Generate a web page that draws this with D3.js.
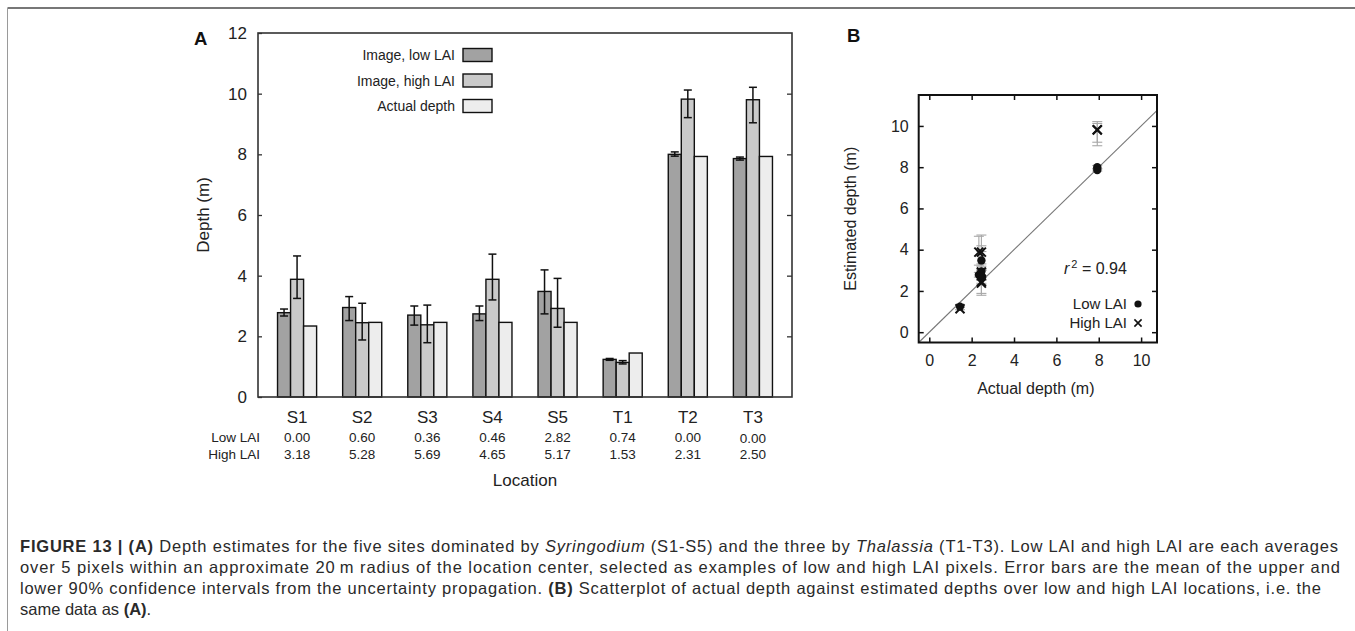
<!DOCTYPE html>
<html>
<head>
<meta charset="utf-8">
<script src="https://cdn.jsdelivr.net/npm/d3@7"></script>
<style>
  html, body { margin: 0; padding: 0; background: #fff; }
  svg { display: block; font-family: "Liberation Sans", Arial, Helvetica, sans-serif; }
</style>
</head>
<body>
<svg id="fig" width="1355" height="631"></svg>
<script>
// ---- data ----
const categories = ["S1", "S2", "S3", "S4", "S5", "T1", "T2", "T3"];
const lowLAI      = [2.78, 2.95, 2.70, 2.74, 3.48, 1.24, 8.00, 7.86];
const lowErrMin   = [2.67, 2.52, 2.37, 2.52, 2.74, 1.21, 7.94, 7.81];
const lowErrMax   = [2.90, 3.31, 3.00, 3.00, 4.19, 1.27, 8.08, 7.91];
const highLAI     = [3.88, 2.45, 2.38, 3.88, 2.92, 1.14, 9.82, 9.80];
const highErrMin  = [3.25, 1.88, 1.79, 3.20, 2.30, 1.09, 9.21, 9.04];
const highErrMax  = [4.65, 3.09, 3.03, 4.71, 3.91, 1.20, 10.12, 10.21];
const actualDepth = [2.34, 2.46, 2.46, 2.46, 2.46, 1.45, 7.93, 7.93];
const lowLAIcover  = ["0.00", "0.60", "0.36", "0.46", "2.82", "0.74", "0.00", "0.00"];
const highLAIcover = ["3.18", "5.28", "5.69", "4.65", "5.17", "1.53", "2.31", "2.50"];
const seriesNames = ["Image, low LAI", "Image, high LAI", "Actual depth"];
const seriesFills = ["#a2a2a2", "#cacaca", "#ededed"];
const yTicksA = [0, 2, 4, 6, 8, 10, 12];
const ticksB = [0, 2, 4, 6, 8, 10];
const rSquared = "0.94";

const svg = d3.select("#fig");

// ---- outer figure frame ----
svg.append("line").attr("x1", 7.5).attr("x2", 1355).attr("y1", 8).attr("y2", 8)
  .attr("stroke", "#4a4a4a").attr("stroke-width", 1.6);
svg.append("line").attr("x1", 7.5).attr("x2", 7.5).attr("y1", 8).attr("y2", 631)
  .attr("stroke", "#9a9a9a").attr("stroke-width", 1);

// =================== Panel A: grouped bars ===================
const xA = d3.scaleLinear().domain([0.4, 8.6]).range([258, 792]);
const yA = d3.scaleLinear().domain([0, 12]).range([397, 33]);
const gA = svg.append("g");

const barSeries = [lowLAI, highLAI, actualDepth];
const offsets = [-0.2, 0, 0.2];
const barW = 0.2;

barSeries.forEach((vals, s) => {
  gA.append("g").selectAll("rect").data(vals).join("rect")
    .attr("x", (d, i) => xA(i + 1 + offsets[s] - barW / 2))
    .attr("width", (d, i) => xA(i + 1 + offsets[s] + barW / 2) - xA(i + 1 + offsets[s] - barW / 2))
    .attr("y", d => yA(d))
    .attr("height", d => yA(0) - yA(d))
    .attr("fill", seriesFills[s])
    .attr("stroke", "#111").attr("stroke-width", 1.4);
});

// error bars
function errorBars(g, xs, mins, maxs, xScale, yScale, cap, color, width) {
  const eb = g.append("g").attr("stroke", color).attr("stroke-width", width).attr("fill", "none");
  xs.forEach((xv, i) => {
    const cx = xScale(xv);
    eb.append("line").attr("x1", cx).attr("x2", cx).attr("y1", yScale(mins[i])).attr("y2", yScale(maxs[i]));
    eb.append("line").attr("x1", cx - cap).attr("x2", cx + cap).attr("y1", yScale(mins[i])).attr("y2", yScale(mins[i]));
    eb.append("line").attr("x1", cx - cap).attr("x2", cx + cap).attr("y1", yScale(maxs[i])).attr("y2", yScale(maxs[i]));
  });
}
errorBars(gA, categories.map((c, i) => i + 1 - 0.2), lowErrMin, lowErrMax, xA, yA, 4, "#111", 1.5);
errorBars(gA, categories.map((c, i) => i + 1), highErrMin, highErrMax, xA, yA, 4, "#111", 1.5);

// axes
const axA = gA.append("g").attr("transform", `translate(${xA.range()[0]},0)`)
  .call(d3.axisLeft(yA).tickValues(yTicksA).tickSize(-4).tickSizeOuter(0).tickPadding(11));
axA.select(".domain").remove();
axA.selectAll("text").attr("font-size", 17).attr("fill", "#222")
  .attr("font-family", "Liberation Sans, Arial, sans-serif");
axA.selectAll("line").attr("stroke", "#333").attr("stroke-width", 1.3);

const axAR = gA.append("g").attr("transform", `translate(${xA.range()[1]},0)`)
  .call(d3.axisRight(yA).tickValues(yTicksA.slice(1, -1)).tickSize(-5).tickSizeOuter(0).tickFormat(""));
axAR.select(".domain").remove();
axAR.selectAll("line").attr("stroke", "#333").attr("stroke-width", 1.3);

gA.append("rect")
  .attr("x", xA.range()[0]).attr("y", yA(12))
  .attr("width", xA.range()[1] - xA.range()[0]).attr("height", yA(0) - yA(12))
  .attr("fill", "none").attr("stroke", "#333").attr("stroke-width", 1.6);

// category labels and LAI rows
gA.append("g").selectAll("text").data(categories).join("text")
  .attr("x", (d, i) => xA(i + 1)).attr("y", 423)
  .attr("text-anchor", "middle").attr("font-size", 17).attr("fill", "#222").text(d => d);
gA.append("g").selectAll("text").data(lowLAIcover).join("text")
  .attr("x", (d, i) => xA(i + 1)).attr("y", (d, i) => i === 7 ? 443 : 441.5)
  .attr("text-anchor", "middle").attr("font-size", 13.5).attr("fill", "#222").text(d => d);
gA.append("g").selectAll("text").data(highLAIcover).join("text")
  .attr("x", (d, i) => xA(i + 1)).attr("y", 459)
  .attr("text-anchor", "middle").attr("font-size", 13.5).attr("fill", "#222").text(d => d);
gA.append("text").attr("x", 260).attr("y", 441.5).attr("text-anchor", "end")
  .attr("font-size", 13.5).attr("fill", "#222").text("Low LAI");
gA.append("text").attr("x", 260).attr("y", 459).attr("text-anchor", "end")
  .attr("font-size", 13.5).attr("fill", "#222").text("High LAI");

gA.append("text").attr("x", 525).attr("y", 486).attr("text-anchor", "middle")
  .attr("font-size", 17).attr("fill", "#222").text("Location");
gA.append("text").attr("transform", `translate(209,${(yA(0) + yA(12)) / 2}) rotate(-90)`)
  .attr("text-anchor", "middle").attr("font-size", 17).attr("fill", "#222").text("Depth (m)");
gA.append("text").attr("x", 194).attr("y", 45).attr("font-size", 18.5).attr("font-weight", "bold")
  .attr("fill", "#111").text("A");

// legend
const legA = gA.append("g");
seriesNames.forEach((name, s) => {
  const cy = 55 + s * 25.5;
  legA.append("text").attr("x", 455).attr("y", cy + 5).attr("text-anchor", "end")
    .attr("font-size", 14).attr("fill", "#222").text(name);
  legA.append("rect").attr("x", 463).attr("y", cy - 6.5).attr("width", 29).attr("height", 13)
    .attr("fill", seriesFills[s]).attr("stroke", "#111").attr("stroke-width", 1.4);
});

// =================== Panel B: scatter ===================
const xB = d3.scaleLinear().domain([-0.5, 10.75]).range([918.7, 1157]);
const yB = d3.scaleLinear().domain([-0.5, 11.5]).range([342.5, 95]);
const gB = svg.append("g");

gB.append("defs").append("clipPath").attr("id", "clipB").append("rect")
  .attr("x", xB.range()[0]).attr("y", yB.range()[1])
  .attr("width", xB.range()[1] - xB.range()[0]).attr("height", yB.range()[0] - yB.range()[1]);

// 1:1 line
gB.append("line").attr("clip-path", "url(#clipB)")
  .attr("x1", xB(-0.5)).attr("y1", yB(-0.5)).attr("x2", xB(11.5)).attr("y2", yB(11.5))
  .attr("stroke", "#777").attr("stroke-width", 1.1);

// error bars (light gray)
errorBars(gB, actualDepth, lowErrMin, lowErrMax, xB, yB, 5, "#a8a8a8", 1.1);
errorBars(gB, actualDepth, highErrMin, highErrMax, xB, yB, 5, "#a8a8a8", 1.1);

// low LAI: filled circles
gB.append("g").selectAll("circle").data(lowLAI).join("circle")
  .attr("cx", (d, i) => xB(actualDepth[i])).attr("cy", d => yB(d)).attr("r", 4.2)
  .attr("fill", "#111");

// high LAI: crosses
const crossPath = (cx, cy, r) => `M${cx - r},${cy - r}L${cx + r},${cy + r}M${cx - r},${cy + r}L${cx + r},${cy - r}`;
gB.append("g").selectAll("path").data(highLAI).join("path")
  .attr("d", (d, i) => crossPath(xB(actualDepth[i]), yB(d), 4.5))
  .attr("stroke", "#111").attr("stroke-width", 2).attr("fill", "none");

// axes with inward ticks on all four sides
const tickLen = 5;
const axBL = gB.append("g").attr("transform", `translate(${xB.range()[0]},0)`)
  .call(d3.axisLeft(yB).tickValues(ticksB).tickSize(-tickLen).tickSizeOuter(0).tickPadding(10));
const axBR = gB.append("g").attr("transform", `translate(${xB.range()[1]},0)`)
  .call(d3.axisRight(yB).tickValues(ticksB).tickSize(-tickLen).tickSizeOuter(0).tickFormat(""));
const axBB = gB.append("g").attr("transform", `translate(0,${yB.range()[0]})`)
  .call(d3.axisBottom(xB).tickValues(ticksB).tickSize(-tickLen).tickSizeOuter(0).tickPadding(12));
const axBT = gB.append("g").attr("transform", `translate(0,${yB.range()[1]})`)
  .call(d3.axisTop(xB).tickValues(ticksB).tickSize(-tickLen).tickSizeOuter(0).tickFormat(""));
[axBL, axBR, axBB, axBT].forEach(a => {
  a.select(".domain").remove();
  a.selectAll("line").attr("stroke", "#111").attr("stroke-width", 1.5);
  a.selectAll("text").attr("font-size", 16).attr("fill", "#222")
    .attr("font-family", "Liberation Sans, Arial, sans-serif");
});
gB.append("rect")
  .attr("x", xB.range()[0]).attr("y", yB.range()[1])
  .attr("width", xB.range()[1] - xB.range()[0]).attr("height", yB.range()[0] - yB.range()[1])
  .attr("fill", "none").attr("stroke", "#111").attr("stroke-width", 2);

gB.append("text").attr("transform", `translate(856,${(yB.range()[0] + yB.range()[1]) / 2}) rotate(-90)`)
  .attr("text-anchor", "middle").attr("font-size", 16).attr("fill", "#222").text("Estimated depth (m)");
gB.append("text").attr("x", (xB.range()[0] + xB.range()[1]) / 2 - 2).attr("y", 394)
  .attr("text-anchor", "middle").attr("font-size", 16).attr("fill", "#222").text("Actual depth (m)");
gB.append("text").attr("x", 847).attr("y", 42).attr("font-size", 18.5).attr("font-weight", "bold")
  .attr("fill", "#111").text("B");

// r^2 annotation
const rt = gB.append("text").attr("x", 1064).attr("y", 274).attr("font-size", 16).attr("fill", "#222");
rt.append("tspan").attr("font-style", "italic").text("r");
rt.append("tspan").attr("font-size", 11).attr("dy", -6).attr("dx", 2).text("2");
rt.append("tspan").attr("dy", 6).text(" = " + rSquared);

// legend
gB.append("text").attr("x", 1127).attr("y", 309).attr("text-anchor", "end")
  .attr("font-size", 15).attr("fill", "#222").text("Low LAI");
gB.append("circle").attr("cx", 1138).attr("cy", 304).attr("r", 3.6).attr("fill", "#111");
gB.append("text").attr("x", 1127).attr("y", 328).attr("text-anchor", "end")
  .attr("font-size", 15).attr("fill", "#222").text("High LAI");
gB.append("path").attr("d", crossPath(1138, 323, 3.6)).attr("stroke", "#111")
  .attr("stroke-width", 1.6).attr("fill", "none");

// =================== Caption ===================
const captionLines = [
  [["b", "FIGURE 13 | (A)"], ["n", " Depth estimates for the five sites dominated by "], ["i", "Syringodium"],
   ["n", " (S1-S5) and the three by "], ["i", "Thalassia"], ["n", " (T1-T3). Low LAI and high LAI are each averages"]],
  [["n", "over 5 pixels within an approximate 20\u2009m radius of the location center, selected as examples of low and high LAI pixels. Error bars are the mean of the upper and"]],
  [["n", "lower 90% confidence intervals from the uncertainty propagation. "], ["b", "(B)"],
   ["n", " Scatterplot of actual depth against estimated depths over low and high LAI locations, i.e. the"]],
  [["n", "same data as "], ["b", "(A)"], ["n", "."]]
];
const captionWidths = [1318, 1320, 1301, null];
const cap = svg.append("g").attr("fill", "#2a2a2a").attr("font-size", 16.5);
captionLines.forEach((parts, li) => {
  const t = cap.append("text").attr("x", 20).attr("y", 552 + li * 21);
  if (captionWidths[li]) t.attr("textLength", captionWidths[li]).attr("lengthAdjust", "spacing");
  parts.forEach(([style, str]) => {
    const ts = t.append("tspan").text(str);
    if (style === "b") ts.attr("font-weight", "bold");
    if (style === "i") ts.attr("font-style", "italic");
  });
});
</script>
</body>
</html>
